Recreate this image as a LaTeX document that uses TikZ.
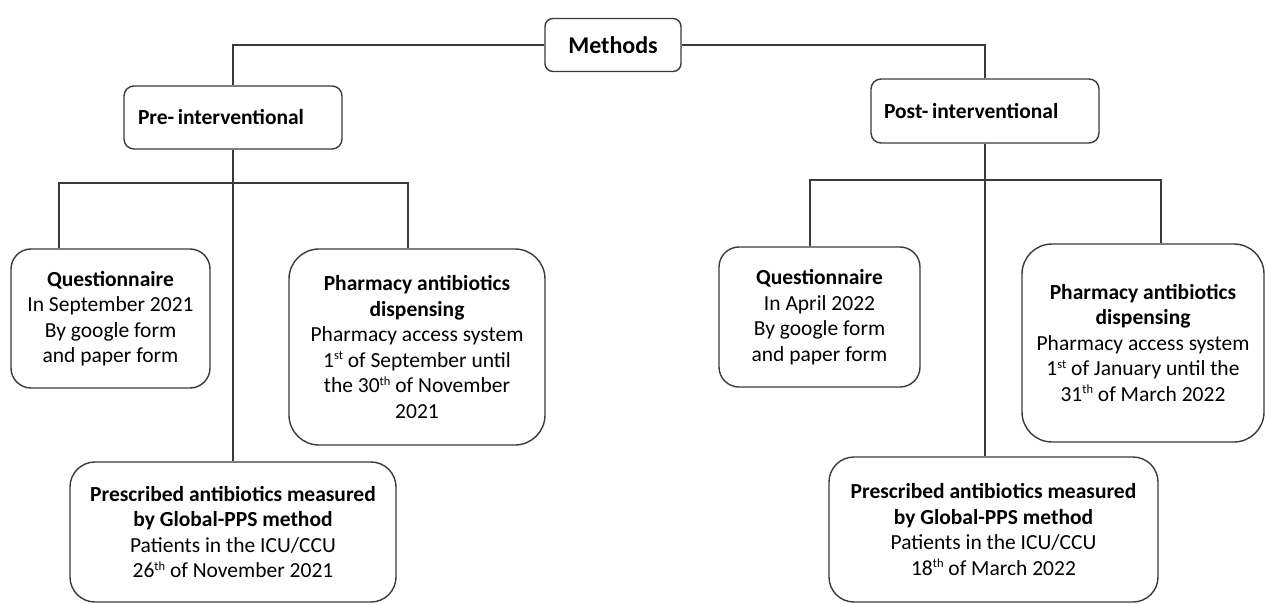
\documentclass[tikz,border=0pt]{standalone}
\usepackage{fontspec}
\setmainfont{Carlito}
\definecolor{linec}{HTML}{3A3A3A}
\newcommand{\mysup}[1]{\raisebox{0.75ex}{\fontsize{12.5}{12.5}\selectfont #1}}
\begin{document}
\begin{tikzpicture}[x=1pt,y=-1pt,
  box/.style={draw=linec, line width=1.4pt, rounded corners=#1, inner sep=0pt, align=center,
    font=\fontsize{21.5}{25.5}\selectfont},
  box/.default=20pt,
  conn/.style={draw=linec, line width=1.4pt}]
\useasboundingbox (0,0) rectangle (1266,604);

\node[box=8pt, minimum width=136pt, minimum height=53pt, font=\fontsize{24}{28}\selectfont] (methods) at (613,45) {\textbf{Methods}};
\node[box=10pt, minimum width=218pt, minimum height=63pt, align=left, text width=190pt, inner xsep=14pt] (pre) at (233,117.5) {\textbf{Pre-\,interventional}};
\node[box=10pt, minimum width=228pt, minimum height=64pt, align=left, text width=202pt, inner xsep=13pt] (post) at (985,111) {\textbf{Post-\,interventional}};

\node[box=20pt, minimum width=199pt, minimum height=139pt] (qL) at (110.5,318.5)
  {\textbf{Questionnaire}\\In September 2021\\By google form\\and paper form};
\node[box=30pt, minimum width=256pt, minimum height=196pt] (pL) at (417,347)
  {\textbf{Pharmacy antibiotics}\\\textbf{dispensing}\\Pharmacy access system\\1\mysup{st} of September until\\the 30\mysup{th} of November\\2021};
\node[box=25pt, minimum width=326pt, minimum height=140pt] (presL) at (233,532)
  {\textbf{Prescribed antibiotics measured}\\\textbf{by Global-PPS method}\\Patients in the ICU/CCU\\26\mysup{th} of November 2021};

\node[box=20pt, minimum width=201pt, minimum height=140pt] (qR) at (819.5,317)
  {\textbf{Questionnaire}\\In April 2022\\By google form\\and paper form};
\node[box=30pt, minimum width=242pt, minimum height=198pt] (pR) at (1143,343)
  {\textbf{Pharmacy antibiotics}\\\textbf{dispensing}\\Pharmacy access system\\1\mysup{st} of January until the\\31\mysup{th} of March 2022};
\node[box=25pt, minimum width=329pt, minimum height=145pt] (presR) at (993.5,529.5)
  {\textbf{Prescribed antibiotics measured}\\\textbf{by Global-PPS method}\\Patients in the ICU/CCU\\18\mysup{th} of March 2022};

% top connectors
\draw[conn] (methods.west) -| (pre.north);
\draw[conn] (methods.east) -| (post.north);

% left branch
\coordinate (lA) at (59,183);
\coordinate (lB) at (408,183);
\draw[conn] (qL.north -| lA) -- (lA) -- (lB) -- (pL.north -| lB);
\draw[conn] (pre.south) -- (pre.south |- presL.north);

% right branch
\coordinate (rA) at (810,180);
\coordinate (rB) at (1161,180);
\draw[conn] (qR.north -| rA) -- (rA) -- (rB) -- (pR.north -| rB);
\draw[conn] (post.south) -- (post.south |- presR.north);
\end{tikzpicture}
\end{document}
